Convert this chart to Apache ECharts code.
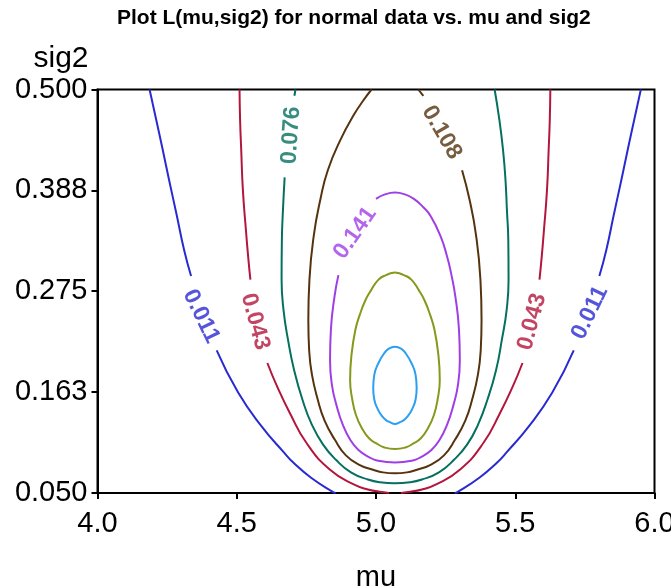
<!DOCTYPE html>
<html>
<head>
<meta charset="utf-8">
<script src="https://cdn.jsdelivr.net/npm/echarts@6/dist/echarts.min.js"></script>
<style>
html, body { margin: 0; padding: 0; background: #fff; }
#chart { width: 671px; height: 588px; }
</style>
</head>
<body>
<div id="chart"></div>
<script>
// axis ticks
var xTicks = [4.0, 4.5, 5.0, 5.5, 6.0];
var xTickLabels = ['4.0', '4.5', '5.0', '5.5', '6.0'];
var yTicks = [0.05, 0.1625, 0.275, 0.3875, 0.5];
var yTickLabels = ['0.050', '0.163', '0.275', '0.388', '0.500'];

// contour levels (inner two are not labelled)
var levels = ['0.011', '0.043', '0.076', '0.108', '0.141', '0.173', '0.206'];

// contour lines, [mu, sig2], split where labels or the axis cut them
var lvl011 = [
  [[4.187, 0.500], [4.211, 0.466], [4.234, 0.433], [4.257, 0.399], [4.283, 0.362], [4.311, 0.321], [4.336, 0.292]],
  [[4.428, 0.209], [4.505, 0.162], [4.590, 0.124], [4.670, 0.095], [4.703, 0.084], [4.767, 0.067], [4.846, 0.051], [4.855, 0.050]],
  [[5.283, 0.050], [5.292, 0.051], [5.371, 0.067], [5.435, 0.084], [5.468, 0.095], [5.548, 0.124], [5.633, 0.162], [5.710, 0.209]],
  [[5.802, 0.292], [5.827, 0.321], [5.855, 0.362], [5.881, 0.399], [5.904, 0.433], [5.927, 0.466], [5.951, 0.500]]
];
var lvl043 = [
  [[4.510, 0.500], [4.512, 0.466], [4.516, 0.433], [4.522, 0.388], [4.533, 0.343], [4.542, 0.310], [4.549, 0.288]],
  [[4.610, 0.195], [4.646, 0.168], [4.691, 0.139], [4.750, 0.106], [4.835, 0.076], [4.924, 0.059], [4.971, 0.054], [5.021, 0.051], [5.047, 0.050]],
  [[5.090, 0.050], [5.115, 0.051], [5.165, 0.054], [5.212, 0.059], [5.301, 0.076], [5.386, 0.106], [5.445, 0.139], [5.490, 0.168], [5.526, 0.195]],
  [[5.587, 0.288], [5.594, 0.310], [5.603, 0.343], [5.614, 0.388], [5.620, 0.433], [5.624, 0.466], [5.626, 0.500]]
];
var lvl076 = [
  [[4.711, 0.500], [4.707, 0.493]],
  [[4.672, 0.402], [4.666, 0.366], [4.662, 0.332], [4.661, 0.288], [4.668, 0.254], [4.684, 0.221], [4.706, 0.187],
   [4.736, 0.154], [4.770, 0.126], [4.810, 0.104], [4.856, 0.087], [4.910, 0.073], [4.971, 0.065], [5.014, 0.062],
   [5.068, 0.061], [5.122, 0.062], [5.165, 0.065], [5.226, 0.073], [5.280, 0.087], [5.327, 0.104], [5.366, 0.126],
   [5.400, 0.154], [5.431, 0.187], [5.452, 0.221], [5.469, 0.254], [5.476, 0.288], [5.475, 0.332], [5.470, 0.366],
   [5.465, 0.399], [5.456, 0.433], [5.443, 0.466], [5.426, 0.500]]
];
var lvl108 = [
  [[5.152, 0.500], [5.170, 0.493]],
  [[5.309, 0.410], [5.336, 0.377], [5.359, 0.338], [5.375, 0.288], [5.379, 0.243], [5.376, 0.209], [5.366, 0.182],
   [5.345, 0.154], [5.321, 0.131], [5.283, 0.109], [5.244, 0.092], [5.194, 0.081], [5.147, 0.076], [5.111, 0.073],
   [5.068, 0.072], [5.025, 0.073], [4.989, 0.076], [4.942, 0.081], [4.892, 0.092], [4.853, 0.109], [4.815, 0.131],
   [4.791, 0.154], [4.770, 0.182], [4.760, 0.209], [4.757, 0.243], [4.761, 0.288], [4.777, 0.338], [4.800, 0.377],
   [4.827, 0.410], [4.874, 0.445], [4.921, 0.472], [4.955, 0.488], [4.984, 0.500]]
];
var lvl141 = [
  [[4.865, 0.293], [4.851, 0.269], [4.838, 0.232], [4.835, 0.198], [4.842, 0.170], [4.858, 0.148], [4.881, 0.126],
   [4.908, 0.109], [4.937, 0.098], [4.975, 0.090], [5.007, 0.086], [5.068, 0.084], [5.129, 0.086], [5.161, 0.090],
   [5.199, 0.098], [5.228, 0.109], [5.255, 0.126], [5.278, 0.148], [5.294, 0.170], [5.301, 0.198], [5.298, 0.232],
   [5.285, 0.269], [5.271, 0.293], [5.255, 0.314], [5.231, 0.337], [5.196, 0.359], [5.169, 0.369], [5.136, 0.378],
   [5.104, 0.383], [5.068, 0.385], [5.032, 0.383], [5.000, 0.378]]
];
var lvl173 = [
  [[5.036, 0.293], [5.068, 0.296], [5.100, 0.293], [5.127, 0.288], [5.154, 0.276], [5.174, 0.265], [5.194, 0.249],
   [5.210, 0.232], [5.224, 0.204], [5.229, 0.176], [5.221, 0.154], [5.208, 0.137], [5.188, 0.123], [5.161, 0.111],
   [5.133, 0.105], [5.108, 0.101], [5.068, 0.099], [5.028, 0.101], [5.003, 0.105], [4.975, 0.111], [4.948, 0.123],
   [4.928, 0.137], [4.915, 0.154], [4.907, 0.176], [4.912, 0.204], [4.926, 0.232], [4.942, 0.249], [4.962, 0.265],
   [4.982, 0.276], [5.009, 0.288], [5.036, 0.293], [5.068, 0.296], [5.100, 0.293]]
];
var lvl206 = [
  [[5.046, 0.211], [5.068, 0.213], [5.090, 0.211], [5.106, 0.206], [5.127, 0.195], [5.142, 0.182], [5.146, 0.167],
   [5.142, 0.154], [5.129, 0.143], [5.115, 0.136], [5.099, 0.131], [5.086, 0.129], [5.068, 0.127], [5.050, 0.129],
   [5.037, 0.131], [5.021, 0.136], [5.007, 0.143], [4.994, 0.154], [4.990, 0.167], [4.994, 0.182], [5.009, 0.195],
   [5.030, 0.206], [5.046, 0.211], [5.068, 0.213], [5.090, 0.211]]
];

// contour labels: text and where it sits, [mu, sig2]
var labelText = ['0.011', '0.011', '0.043', '0.043', '0.076', '0.108', '0.141'];
var labelMu = [4.372, 5.768, 4.566, 5.560, 4.695, 5.236, 4.925];
var labelSig2 = [0.247, 0.251, 0.241, 0.241, 0.449, 0.452, 0.340];

// styles
var contours = [lvl011, lvl043, lvl076, lvl108, lvl141, lvl173, lvl206];
var lineColors = ['#2a2ad2', '#b3163c', '#05705f', '#55330f', '#a03ee6', '#87981c', '#2b9ff2'];
var labelRotate = [-64, 64, -75, 75, 86, -60, 55];
var font = "'Liberation Sans', Arial, sans-serif";

var myChart = echarts.init(document.getElementById('chart'));

var series = [];
contours.forEach(function (segs, i) {
  segs.forEach(function (seg) {
    series.push({
      type: 'line',
      data: seg,
      smooth: 0.5,
      symbol: 'none',
      silent: true,
      lineStyle: { color: lineColors[i], width: 2 }
    });
  });
});
labelText.forEach(function (t, i) {
  series.push({
    type: 'scatter',
    data: [[labelMu[i], labelSig2[i]]],
    symbolSize: 1,
    silent: true,
    itemStyle: { color: 'transparent' },
    label: {
      show: true,
      position: 'inside',
      rotate: labelRotate[i],
      formatter: t,
      color: lineColors[levels.indexOf(t)],
      fontSize: 23,
      fontWeight: 'bold',
      fontFamily: font
    }
  });
});

function nearest(ticks, labels, v) {
  var best = 0;
  for (var i = 1; i < ticks.length; i++) {
    if (Math.abs(ticks[i] - v) < Math.abs(ticks[best] - v)) best = i;
  }
  return labels[best];
}

myChart.setOption({
  animation: false,
  backgroundColor: '#fff',
  title: {
    text: 'Plot L(mu,sig2) for normal data vs. mu and sig2',
    left: 112,
    top: 3,
    textStyle: { fontSize: 21, fontWeight: 'bold', color: '#000', fontFamily: font }
  },
  grid: {
    left: 97.5,
    right: 16.5,
    top: 89.5,
    bottom: 95,
    outerBoundsMode: 'none',
    show: true,
    borderColor: '#000',
    borderWidth: 2
  },
  xAxis: {
    type: 'value',
    min: xTicks[0],
    max: xTicks[xTicks.length - 1],
    interval: 0.5,
    name: 'mu',
    nameLocation: 'middle',
    nameGap: 70,
    nameTextStyle: { fontSize: 29, color: '#000', fontFamily: font },
    axisLine: { lineStyle: { color: '#000', width: 2 } },
    axisTick: { length: 6, lineStyle: { color: '#000', width: 2 } },
    axisLabel: {
      fontSize: 29,
      color: '#000',
      fontFamily: font,
      margin: 16,
      formatter: function (v) { return nearest(xTicks, xTickLabels, v); }
    },
    splitLine: { show: false }
  },
  yAxis: {
    type: 'value',
    min: yTicks[0],
    max: yTicks[yTicks.length - 1],
    interval: 0.1125,
    name: 'sig2',
    nameLocation: 'end',
    nameGap: 16,
    nameTextStyle: { fontSize: 30, color: '#000', fontFamily: font, align: 'right', padding: [0, 9, 0, 0] },
    axisLine: { show: true, lineStyle: { color: '#000', width: 2 } },
    axisTick: { show: true, length: 6, lineStyle: { color: '#000', width: 2 } },
    axisLabel: {
      fontSize: 29,
      color: '#000',
      fontFamily: font,
      margin: 10,
      formatter: function (v) { return nearest(yTicks, yTickLabels, v); }
    },
    splitLine: { show: false }
  },
  series: series
});
</script>
</body>
</html>
